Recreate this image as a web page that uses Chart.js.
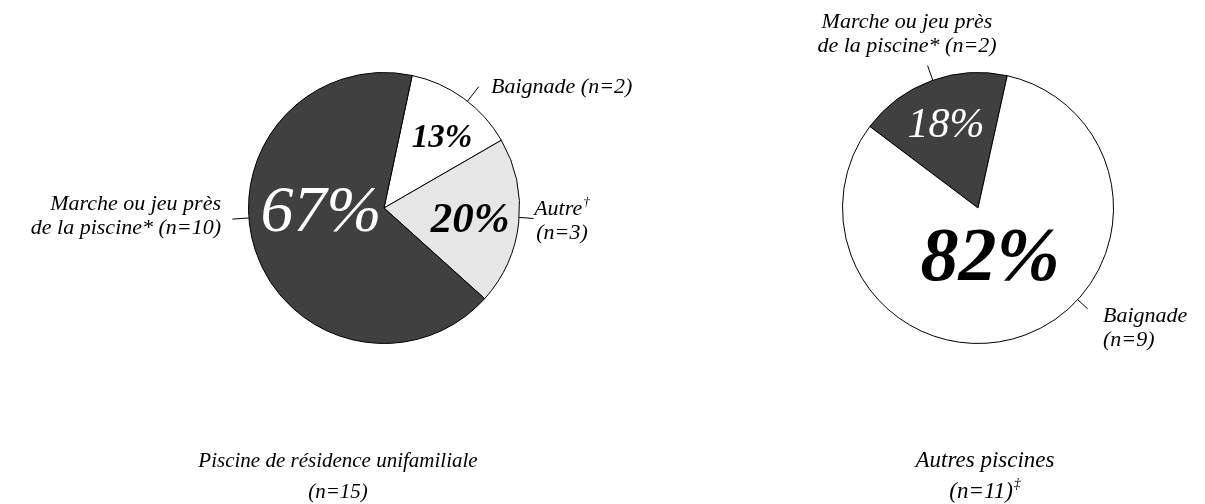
<!DOCTYPE html>
<html lang="fr">
<head>
  <meta charset="UTF-8">
  <title>Circonstances selon le type de piscine</title>
  <script src="https://cdn.jsdelivr.net/npm/chart.js"></script>
  <style>
    html, body { margin: 0; padding: 0; background: #fff; }
    #wrap { position: relative; width: 1205px; height: 504px; }
    #leftPie { position: absolute; left: 0; top: 0; }
    #rightPie { position: absolute; left: 700px; top: 0; }
  </style>
</head>
<body>
  <div id="wrap">
    <canvas id="leftPie" width="700" height="504"></canvas>
    <canvas id="rightPie" width="505" height="504"></canvas>
  </div>

  <script>
    // Piscine de résidence unifamiliale
    const leftCategories = ['Baignade', 'Autre†', 'Marche ou jeu près de la piscine*'];
    const leftCounts = [2, 3, 10];
    const leftPercents = ['13%', '20%', '67%'];
    const leftLabelLines = [['Baignade (n=2)'], ['Autre†', '(n=3)'], ['Marche ou jeu près', 'de la piscine* (n=10)']];
    const leftTitle = ['Piscine de résidence unifamiliale', '(n=15)'];

    // Autres piscines
    const rightCategories = ['Marche ou jeu près de la piscine*', 'Baignade'];
    const rightCounts = [2, 9];
    const rightPercents = ['18%', '82%'];
    const rightLabelLines = [['Marche ou jeu près', 'de la piscine* (n=2)'], ['Baignade', '(n=9)']];
    const rightTitle = ['Autres piscines', '(n=11)‡'];

    const DARK = '#404040', LIGHT = '#e6e6e6', WHITE = '#ffffff';
    const FONT = '"Liberation Serif", "Times New Roman", serif';

    // angle en degrés depuis le haut, sens horaire -> radians canvas
    function toRad(d) { return (d - 90) * Math.PI / 180; }

    // texte italique, avec † ou ‡ final en exposant
    function drawText(ctx, txt, x, y, size, align) {
      const last = txt.slice(-1);
      const sup = (last === '†' || last === '‡');
      const base = sup ? txt.slice(0, -1) : txt;
      ctx.font = `italic ${size}px ${FONT}`;
      const wb = ctx.measureText(base).width;
      let ws = 0;
      if (sup) {
        ctx.font = `italic ${size * 0.6}px ${FONT}`;
        ws = ctx.measureText(last).width + 1;
      }
      const w = wb + ws;
      let x0 = x;
      if (align === 'center') x0 = x - w / 2;
      if (align === 'right') x0 = x - w;
      ctx.textAlign = 'left';
      ctx.textBaseline = 'alphabetic';
      ctx.font = `italic ${size}px ${FONT}`;
      ctx.fillText(base, x0, y);
      if (sup) {
        ctx.font = `italic ${size * 0.6}px ${FONT}`;
        ctx.fillText(last, x0 + wb + 1, y - size * 0.42);
      }
    }

    const annotatePie = {
      id: 'annotatePie',
      afterDraw(chart, args, opts) {
        const ctx = chart.ctx;
        const arcs = chart.getDatasetMeta(0).data;
        ctx.save();
        arcs.forEach((arc, i) => {
          const cx = arc.x, cy = arc.y, R = arc.outerRadius;

          // pourcentage dans la pointe
          const p = opts.pct[i];
          const a = toRad(p.angle);
          const px = cx + p.r * R * Math.cos(a);
          const py = cy + p.r * R * Math.sin(a);
          ctx.font = `italic ${p.weight} ${p.size}px ${FONT}`;
          ctx.fillStyle = p.color;
          ctx.textAlign = 'center';
          ctx.textBaseline = 'alphabetic';
          ctx.fillText(opts.percents[i], px, py + p.size * 0.33);

          // trait de rappel
          const l = opts.leaders[i];
          const b = toRad(l.angle);
          ctx.strokeStyle = '#000';
          ctx.lineWidth = 1;
          ctx.beginPath();
          ctx.moveTo(cx + R * Math.cos(b), cy + R * Math.sin(b));
          ctx.lineTo(cx + l.len * Math.cos(b), cy + l.len * Math.sin(b));
          ctx.stroke();

          // étiquette
          ctx.fillStyle = '#000';
          opts.lines[i].forEach((t, k) => {
            drawText(ctx, t, cx + l.dx, cy + l.dy + k * 23.5, opts.labelSize, l.align);
          });
        });

        // titre sous la pointe
        const c = arcs[0];
        opts.title.forEach((t, k) => {
          drawText(ctx, t, c.x + opts.titleDx, 467 + k * 31, opts.titleSize, 'center');
        });
        ctx.restore();
      }
    };

    function makePie(id, counts, categories, colors, rotation, pad, annot) {
      return new Chart(document.getElementById(id), {
        type: 'pie',
        data: {
          labels: categories,
          datasets: [{
            data: counts,
            backgroundColor: colors,
            borderColor: '#000',
            borderWidth: 1
          }]
        },
        options: {
          responsive: false,
          animation: false,
          rotation: rotation,
          layout: { padding: pad },
          events: [],
          plugins: {
            legend: { display: false },
            tooltip: { enabled: false },
            annotatePie: annot
          }
        },
        plugins: [annotatePie]
      });
    }

    makePie('leftPie', leftCounts, leftCategories, [WHITE, LIGHT, DARK], 12,
      { left: 248, right: 180, top: 72, bottom: 160 },
      {
        percents: leftPercents,
        lines: leftLabelLines,
        title: leftTitle,
        titleDx: -46,
        titleSize: 21,
        labelSize: 22,
        pct: [
          { angle: 39, r: 0.68, size: 33, color: '#000', weight: 'bold' },
          { angle: 96.6, r: 0.64, size: 43, color: '#000', weight: 'bold' },
          { angle: 269, r: 0.465, size: 66, color: '#fff', weight: 'normal' }
        ],
        leaders: [
          { angle: 38, len: 154, dx: 107, dy: -115, align: 'left' },
          { angle: 94, len: 150, dx: 178, dy: 7, align: 'center' },
          { angle: 265.8, len: 152, dx: -163, dy: 2, align: 'right' }
        ]
      });

    makePie('rightPie', rightCounts, rightCategories, [DARK, WHITE], -53,
      { left: 142, right: 91, top: 72, bottom: 160 },
      {
        percents: rightPercents,
        lines: rightLabelLines,
        title: rightTitle,
        titleDx: 7,
        titleSize: 23,
        labelSize: 22,
        pct: [
          { angle: 339.4, r: 0.67, size: 42, color: '#fff', weight: 'normal' },
          { angle: 165.7, r: 0.36, size: 76, color: '#000', weight: 'bold' }
        ],
        leaders: [
          { angle: -19.5, len: 151, dx: -71, dy: -180, align: 'center' },
          { angle: 132.6, len: 149, dx: 125, dy: 114, align: 'left' }
        ]
      });
  </script>
</body>
</html>
